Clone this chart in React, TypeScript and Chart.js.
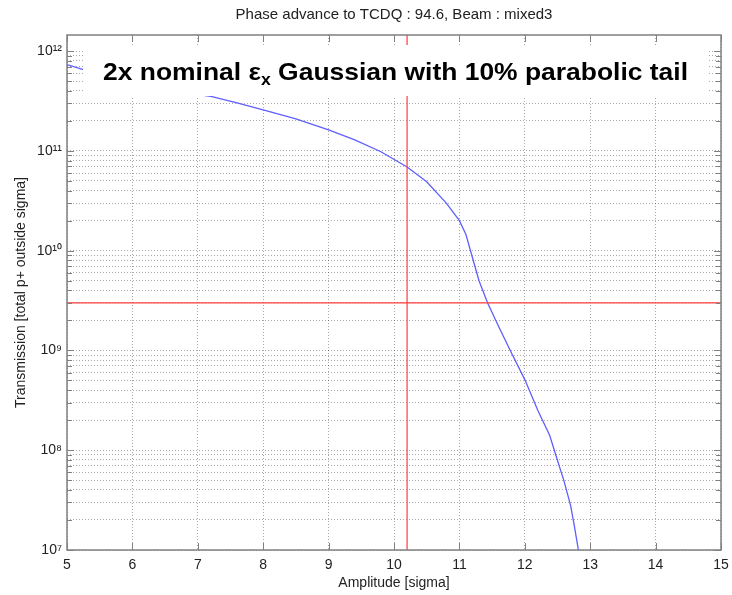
import React, { useEffect, useRef } from 'react';
import { Chart, registerables } from 'chart.js';

Chart.register(...registerables);

const chartTitle = 'Phase advance to TCDQ : 94.6, Beam : mixed3';
const xAxisTitle = 'Amplitude [sigma]';
const yAxisTitle = 'Transmission [total p+ outside sigma]';
const annotationBefore = '2x nominal ε';
const annotationSub = 'x';
const annotationAfter = ' Gaussian with 10% parabolic tail';

const amplitude = [5.0, 5.25, 5.6, 6.0, 6.5, 7.0, 7.2, 7.6, 8.0, 8.5, 9.0, 9.4, 9.8, 10.2, 10.5, 10.8, 11.0, 11.1, 11.2, 11.3, 11.43, 11.6, 11.8, 12.0, 12.2, 12.38, 12.5, 12.6, 12.7, 12.75, 12.82];
const transmission = [7.33e11, 6.53e11, 5.75e11, 5.0e11, 4.27e11, 3.67e11, 3.52e11, 3.02e11, 2.57e11, 2.09e11, 1.62e11, 1.29e11, 9.8e10, 6.9e10, 4.9e10, 3.0e10, 2.0e10, 1.45e10, 8.5e9, 5.0e9, 3.0e9, 1.74e9, 9.3e8, 5.1e8, 2.5e8, 1.41e8, 7.9e7, 4.9e7, 2.8e7, 1.86e7, 1.0e7];

const thresholdTransmission = 3e9;
const thresholdAmplitude = 10.2;

const xMin = 5;
const xMax = 15;
const xTickValues = [5, 6, 7, 8, 9, 10, 11, 12, 13, 14, 15];
const yMin = 1e7;
const yMax = 1.45e12;
const yExponents = [7, 8, 9, 10, 11, 12];
const yMantissas = [1, 2, 3, 4, 5, 6, 7, 8, 9];

const yTickValues: number[] = [];
yExponents.forEach((e) => {
  yMantissas.forEach((m) => {
    const v = m * Math.pow(10, e);
    if (v <= yMax * 1.0000001) yTickValues.push(v);
  });
});

const SUP: Record<string, string> = { '0': '⁰', '1': '¹', '2': '²', '3': '³', '4': '⁴', '5': '⁵', '6': '⁶', '7': '⁷', '8': '⁸', '9': '⁹' };
const toSup = (n: number) => String(n).split('').map((c) => SUP[c] || c).join('');

const FONT = "'Liberation Sans', Arial, Helvetica, sans-serif";
const TEXT = '#222222';
const GRID = 'rgba(0,0,0,0.34)';
const FRAME = '#808080';

const isPow10 = (v: number) => {
  const l = Math.log10(v);
  return Math.abs(l - Math.round(l)) < 1e-9;
};

const annotationPlugin = {
  id: 'annotationBox',
  afterDatasetsDraw(chart: any) {
    const { ctx, chartArea } = chart;
    const left = chartArea.left + 16;
    const right = chartArea.right - 13;
    const top = chartArea.top + 10;
    const bottom = chartArea.top + 61;
    ctx.save();
    ctx.fillStyle = '#ffffff';
    ctx.fillRect(left, top, right - left, bottom - top);
    ctx.fillStyle = '#000000';
    ctx.textBaseline = 'alphabetic';
    ctx.textAlign = 'left';
    const big = `bold 24px ${FONT}`;
    const small = `bold 16px ${FONT}`;
    ctx.font = big;
    const w1 = ctx.measureText(annotationBefore).width;
    const w3 = ctx.measureText(annotationAfter).width;
    ctx.font = small;
    const w2 = ctx.measureText(annotationSub).width;
    const total = w1 + w2 + w3;
    const target = 585;
    const sx = target / total;
    const cx = (chartArea.left + chartArea.right) / 2 + 1.5;
    ctx.translate(cx - target / 2, chartArea.top + 45);
    ctx.scale(sx, 1);
    ctx.font = big;
    ctx.fillText(annotationBefore, 0, 0);
    ctx.font = small;
    ctx.fillText(annotationSub, w1, 5);
    ctx.font = big;
    ctx.fillText(annotationAfter, w1 + w2, 0);
    ctx.restore();
  },
};

const framePlugin = {
  id: 'frameTicks',
  afterDraw(chart: any) {
    const { ctx, chartArea, scales } = chart;
    const { left, right, top, bottom } = chartArea;
    ctx.save();
    ctx.strokeStyle = FRAME;
    ctx.lineWidth = 1;
    ctx.beginPath();
    xTickValues.forEach((v) => {
      const px = Math.round(scales.x.getPixelForValue(v)) + 0.5;
      ctx.moveTo(px, bottom);
      ctx.lineTo(px, bottom - 7);
      ctx.moveTo(px, top);
      ctx.lineTo(px, top + 7);
    });
    yTickValues.forEach((v) => {
      const py = Math.round(scales.y.getPixelForValue(v)) + 0.5;
      const len = isPow10(v) ? 7 : 5;
      ctx.moveTo(left, py);
      ctx.lineTo(left + len, py);
      ctx.moveTo(right, py);
      ctx.lineTo(right - len, py);
    });
    ctx.stroke();
    ctx.lineWidth = 1.5;
    ctx.strokeRect(left, top, right - left, bottom - top);
    ctx.restore();
  },
};

export default function App() {
  const ref = useRef<HTMLCanvasElement>(null);
  useEffect(() => {
    const canvas = ref.current;
    if (!canvas) return;
    const curve = amplitude.map((a, i) => ({ x: a, y: transmission[i] }));
    const chart = new Chart(canvas, {
      type: 'scatter',
      data: {
        datasets: [
          {
            data: [{ x: xMin, y: thresholdTransmission }, { x: xMax, y: thresholdTransmission }],
            showLine: true,
            borderColor: 'rgb(255,60,60)',
            borderWidth: 1.2,
            pointRadius: 0,
          },
          {
            data: [{ x: thresholdAmplitude, y: yMin }, { x: thresholdAmplitude, y: yMax }],
            showLine: true,
            borderColor: 'rgb(255,60,60)',
            borderWidth: 1.2,
            pointRadius: 0,
          },
          {
            data: curve,
            showLine: true,
            borderColor: 'rgb(95,95,255)',
            borderWidth: 1.3,
            pointRadius: 0,
            tension: 0,
          },
        ],
      },
      options: {
        animation: false,
        responsive: false,
        layout: { padding: { left: 0, right: 11, top: 0, bottom: 0 } },
        plugins: {
          legend: { display: false },
          tooltip: { enabled: false },
          title: {
            display: true,
            text: chartTitle,
            fullSize: false,
            color: TEXT,
            font: { family: FONT, size: 15, weight: 'normal', lineHeight: 1.2 },
            padding: { top: 6, bottom: 11 },
          },
        },
        scales: {
          x: {
            type: 'linear',
            min: xMin,
            max: xMax,
            afterBuildTicks: (s: any) => {
              s.ticks = xTickValues.map((v) => ({ value: v }));
            },
            afterFit: (s: any) => {
              s.height = 45;
              s.paddingLeft = 0;
              s.paddingRight = 0;
            },
            grid: { color: GRID, drawTicks: false, lineWidth: 1 },
            border: { display: false, dash: [1, 2] },
            ticks: { color: TEXT, font: { family: FONT, size: 14 }, padding: 7, autoSkip: false, maxRotation: 0 },
            title: {
              display: true,
              text: xAxisTitle,
              color: TEXT,
              font: { family: FONT, size: 14, lineHeight: 1.2 },
              padding: { top: 0, bottom: 3.6 },
            },
          },
          y: {
            type: 'logarithmic',
            min: yMin,
            max: yMax,
            afterBuildTicks: (s: any) => {
              s.ticks = yTickValues.map((v) => ({ value: v }));
            },
            afterFit: (s: any) => {
              s.width = 67;
              s.paddingTop = 0;
              s.paddingBottom = 0;
            },
            grid: { color: GRID, drawTicks: false, lineWidth: 1 },
            border: { display: false, dash: [1, 2] },
            ticks: {
              color: TEXT,
              font: { family: FONT, size: 14 },
              padding: 5,
              autoSkip: false,
              callback: (value: any) => {
                const v = Number(value);
                return isPow10(v) ? '10' + toSup(Math.round(Math.log10(v))) : '';
              },
            },
            title: {
              display: true,
              text: yAxisTitle,
              color: TEXT,
              font: { family: FONT, size: 14, lineHeight: 1.2 },
              padding: { top: 12.6, bottom: 0 },
            },
          },
        },
      },
      plugins: [annotationPlugin, framePlugin],
    } as any);
    return () => chart.destroy();
  }, []);
  return (
    <div style={{ position: 'absolute', left: 0, top: 0, width: 732, height: 595, background: '#ffffff' }}>
      <canvas ref={ref} width={732} height={595} style={{ display: 'block' }} />
    </div>
  );
}
